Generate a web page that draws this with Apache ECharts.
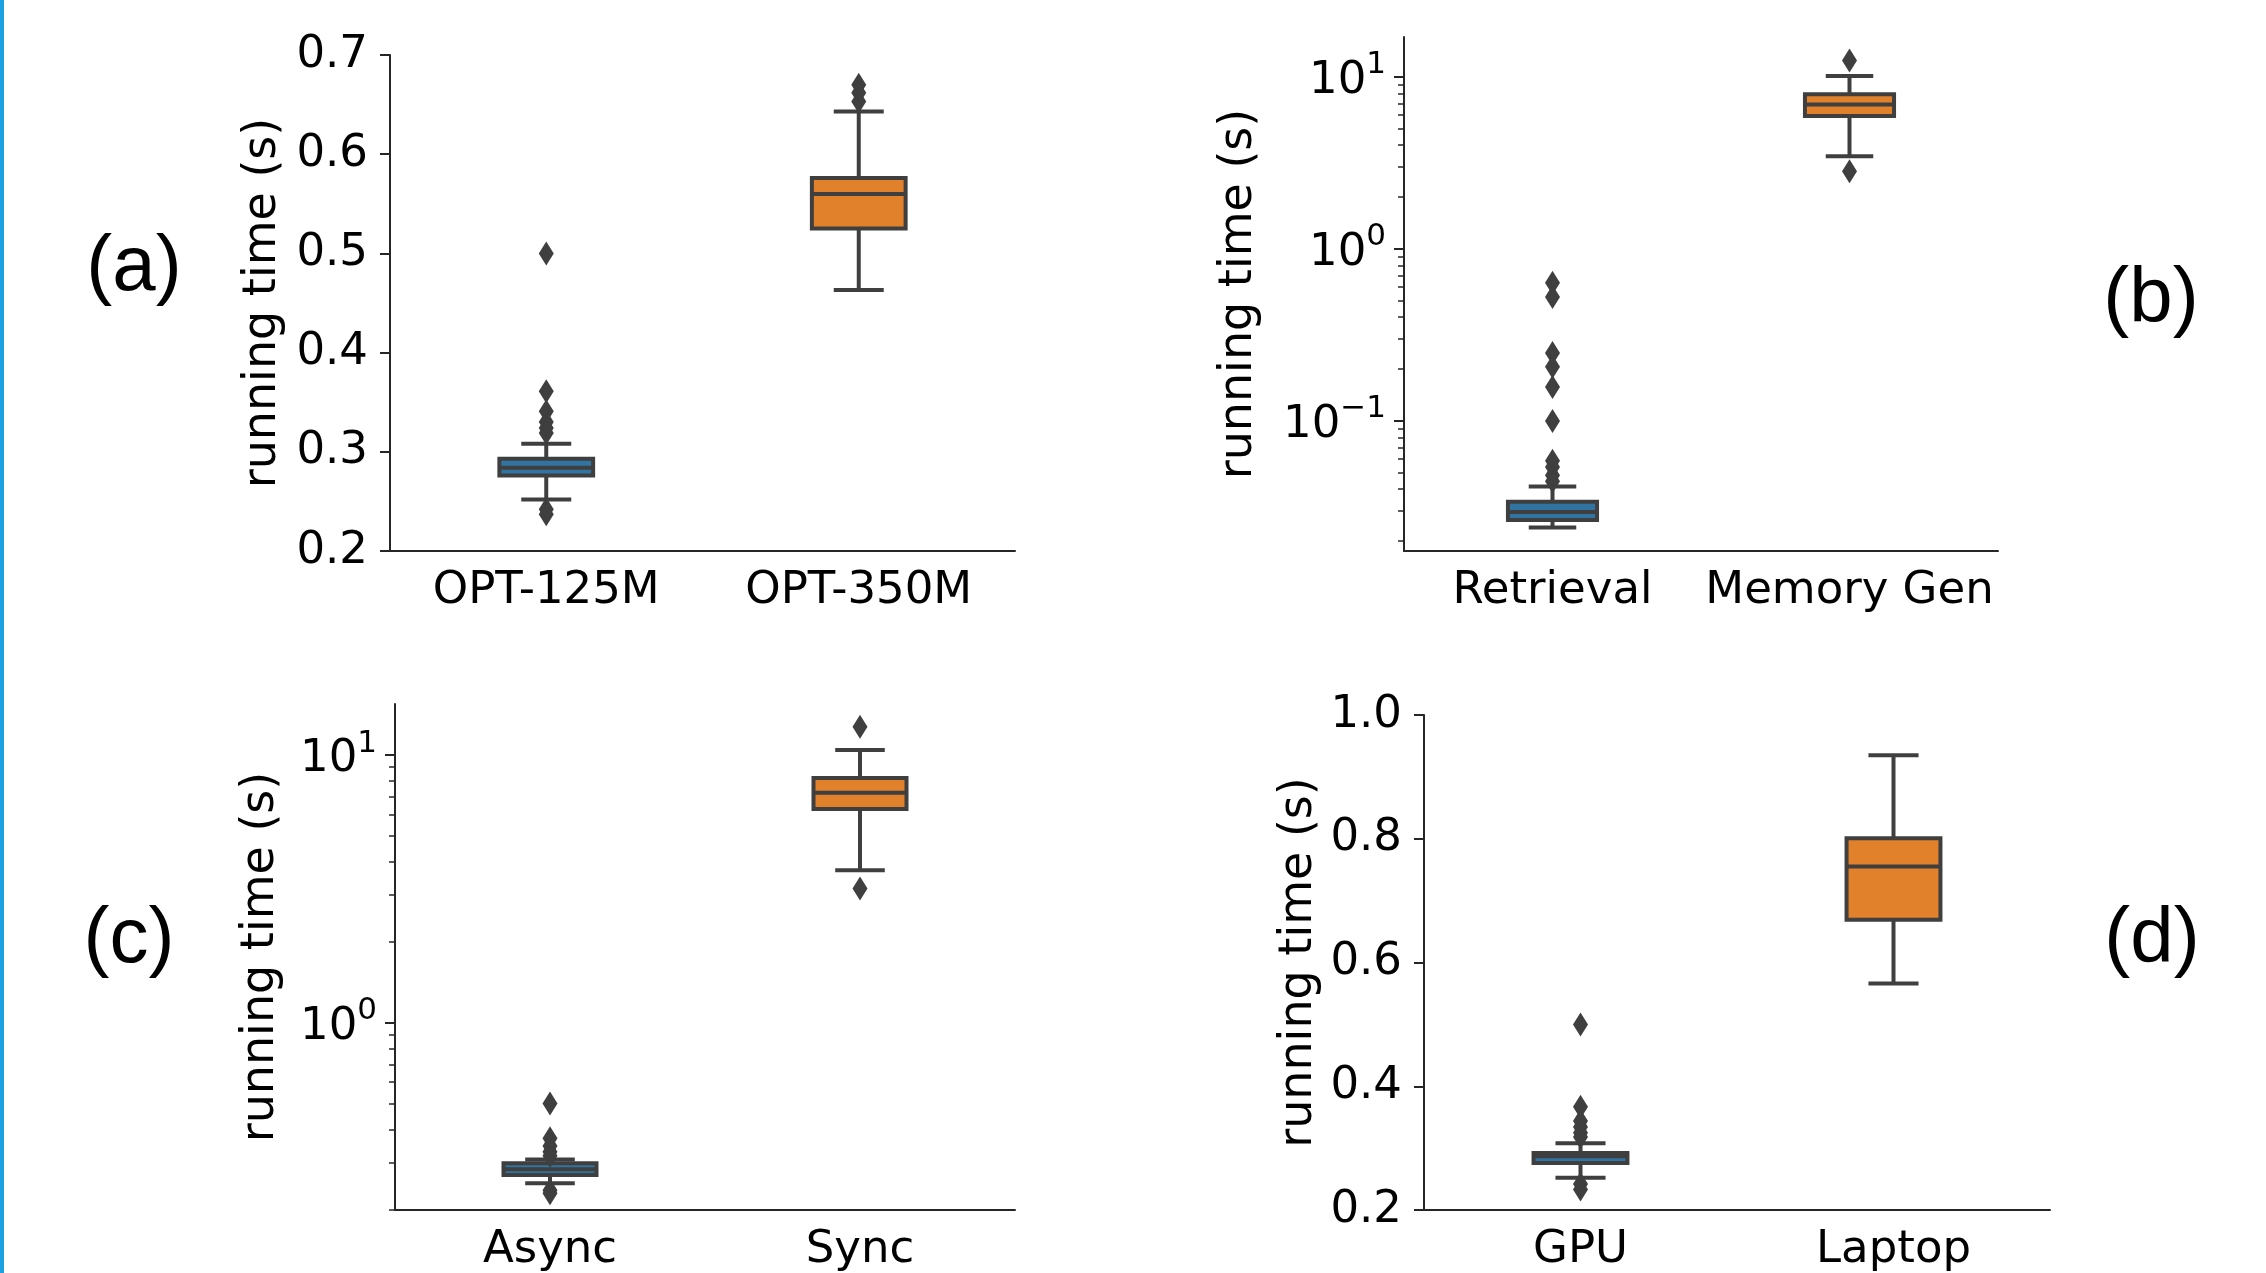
<!DOCTYPE html>
<html>
<head>
<meta charset="utf-8">
<script src="https://cdn.jsdelivr.net/npm/echarts@6/dist/echarts.min.js"></script>
<style>
  html, body { margin: 0; padding: 0; background: #ffffff; }
  #main { width: 2266px; height: 1273px; }
</style>
</head>
<body>
<div id="main"></div>
<script>
// panel (a)
const catsA = ['OPT-125M', 'OPT-350M'];
// [low whisker, q1, median, q3, high whisker]
const statsA = [[0.252, 0.276, 0.284, 0.293, 0.308], [0.463, 0.525, 0.560, 0.576, 0.643]];
const outA = [[0, 0.500], [0, 0.361], [0, 0.341], [0, 0.330], [0, 0.324], [0, 0.319], [0, 0.242], [0, 0.237],
  [1, 0.670], [1, 0.662], [1, 0.653]];

// panel (b), log scale
const catsB = ['Retrieval', 'Memory Gen'];
const statsB = [[0.0239, 0.0264, 0.0294, 0.0338, 0.0414], [3.45, 5.91, 6.88, 7.90, 10.1]];
const outB = [[0, 0.634], [0, 0.524], [0, 0.247], [0, 0.206], [0, 0.157], [0, 0.0995], [0, 0.0585],
  [0, 0.0538], [0, 0.0482], [0, 0.0444], [1, 12.4], [1, 2.82]];

// panel (c), log scale
const catsC = ['Async', 'Sync'];
const statsC = [[0.2515, 0.2705, 0.284, 0.299, 0.309], [3.71, 6.28, 7.22, 8.20, 10.44]];
const outC = [[0, 0.500], [0, 0.371], [0, 0.347], [0, 0.330], [0, 0.319], [0, 0.237], [0, 0.231],
  [1, 12.75], [1, 3.17]];

// panel (d)
const catsD = ['GPU', 'Laptop'];
const statsD = [[0.252, 0.276, 0.287, 0.292, 0.308], [0.566, 0.669, 0.755, 0.801, 0.935]];
const outD = [[0, 0.500], [0, 0.367], [0, 0.344], [0, 0.334], [0, 0.325], [0, 0.318], [0, 0.242], [0, 0.233]];

const majorLog = [0.1, 1, 10];
const minorLog = [0.02, 0.03, 0.04, 0.05, 0.06, 0.07, 0.08, 0.09, 0.2, 0.3, 0.4, 0.5, 0.6, 0.7, 0.8, 0.9,
  2, 3, 4, 5, 6, 7, 8, 9];

const boxColors = ['#3274a1', '#e1812c'];
const edge = '#3f3f3f';
const axisColor = '#262626';
const font = 'DejaVu Sans';

function renderBox(params, api) {
  const x = api.value(0);
  const lo = api.coord([x, api.value(1)]);
  const q1 = api.coord([x, api.value(2)]);
  const md = api.coord([x, api.value(3)]);
  const q3 = api.coord([x, api.value(4)]);
  const hi = api.coord([x, api.value(5)]);
  const band = api.size([1, 0])[0];
  const hw = band * 0.15;
  const cw = band * 0.08;
  const cx = md[0];
  const ls = { stroke: edge, lineWidth: 4 };
  return {
    type: 'group',
    children: [
      { type: 'line', shape: { x1: cx, y1: q3[1], x2: cx, y2: hi[1] }, style: ls },
      { type: 'line', shape: { x1: cx, y1: q1[1], x2: cx, y2: lo[1] }, style: ls },
      { type: 'line', shape: { x1: cx - cw, y1: hi[1], x2: cx + cw, y2: hi[1] }, style: ls },
      { type: 'line', shape: { x1: cx - cw, y1: lo[1], x2: cx + cw, y2: lo[1] }, style: ls },
      { type: 'rect', shape: { x: cx - hw, y: q3[1], width: 2 * hw, height: q1[1] - q3[1] },
        style: { fill: boxColors[x], stroke: edge, lineWidth: 4 } },
      { type: 'line', shape: { x1: cx - hw, y1: md[1], x2: cx + hw, y2: md[1] }, style: ls }
    ]
  };
}

function powLabel(v) {
  const e = Math.round(Math.log10(v));
  return '{b|10}{s|' + (e < 0 ? '\u2212' + (-e) : e) + '}';
}

function xAxisFor(i, cats) {
  return {
    type: 'category', gridIndex: i, data: cats,
    axisLine: { lineStyle: { color: axisColor, width: 2 } },
    axisTick: { alignWithLabel: true, length: 10, lineStyle: { color: axisColor, width: 2 } },
    axisLabel: { fontSize: 45, color: '#000', fontFamily: font, margin: 18, interval: 0 },
    splitLine: { show: false }
  };
}

function linearY(i, min, max, interval, gap) {
  return {
    type: 'value', gridIndex: i, min: min, max: max, interval: interval, position: 'left',
    name: 'running time (s)', nameLocation: 'middle', nameGap: gap,
    nameTextStyle: { fontSize: 46, color: '#000', fontFamily: font },
    axisLine: { show: true, lineStyle: { color: axisColor, width: 2 } },
    axisTick: { show: true, length: 10, lineStyle: { color: axisColor, width: 2 } },
    axisLabel: { fontSize: 45, color: '#000', fontFamily: font, margin: 22,
      formatter: (v) => v.toFixed(1) },
    splitLine: { show: false }
  };
}

function logY(i, min, max, gap) {
  return [{
    type: 'log', logBase: 10, gridIndex: i, min: min, max: max, position: 'left',
    name: 'running time (s)', nameLocation: 'middle', nameGap: gap,
    nameTextStyle: { fontSize: 46, color: '#000', fontFamily: font },
    axisLine: { show: true, lineStyle: { color: axisColor, width: 2 } },
    axisTick: { show: true, length: 10, customValues: majorLog, lineStyle: { color: axisColor, width: 2 } },
    axisLabel: {
      customValues: majorLog, margin: 18, formatter: powLabel,
      rich: {
        b: { fontSize: 45, color: '#000', fontFamily: font, lineHeight: 54, verticalAlign: 'bottom' },
        s: { fontSize: 31, color: '#000', fontFamily: font, lineHeight: 31, verticalAlign: 'top' }
      }
    },
    splitLine: { show: false }
  }, {
    // minor ticks only
    type: 'log', logBase: 10, gridIndex: i, min: min, max: max, position: 'left', offset: 0,
    axisLine: { show: false },
    axisTick: { show: true, length: 6, customValues: minorLog, lineStyle: { color: axisColor, width: 1.5 } },
    axisLabel: { show: false },
    splitLine: { show: false }
  }];
}

function boxSeries(i, yIdx, stats) {
  return {
    type: 'custom', xAxisIndex: i, yAxisIndex: yIdx,
    renderItem: renderBox,
    encode: { x: 0, y: [1, 2, 3, 4, 5] },
    data: stats.map((s, k) => [k].concat(s)),
    silent: true, z: 2
  };
}

function outlierSeries(i, yIdx, pts) {
  return {
    type: 'scatter', xAxisIndex: i, yAxisIndex: yIdx,
    symbol: 'diamond', symbolSize: [15, 24],
    itemStyle: { color: edge, opacity: 1 },
    data: pts, silent: true, z: 3
  };
}

const logB = logY(1, 0.01746, 17.0, 142);
const logC = logY(2, 0.2, 15.5, 111);

const option = {
  animation: false,
  backgroundColor: '#ffffff',
  grid: [
    { left: 390, top: 55, width: 625, height: 496 },
    { left: 1404, top: 37, width: 594, height: 514 },
    { left: 395, top: 704, width: 620, height: 514 },
    { left: 1424, top: 715, width: 626, height: 496 }
  ],
  xAxis: [xAxisFor(0, catsA), xAxisFor(1, catsB), xAxisFor(2, catsC), xAxisFor(3, catsD)],
  yAxis: [
    linearY(0, 0.2, 0.7, 0.1, 104),  // 0
    logB[0], logB[1],                 // 1, 2
    logC[0], logC[1],                 // 3, 4
    linearY(3, 0.2, 1.0, 0.2, 102)    // 5
  ],
  series: [
    boxSeries(0, 0, statsA), outlierSeries(0, 0, outA),
    boxSeries(1, 1, statsB), outlierSeries(1, 1, outB),
    boxSeries(2, 3, statsC), outlierSeries(2, 3, outC),
    boxSeries(3, 5, statsD), outlierSeries(3, 5, outD)
  ],
  graphic: [
    { type: 'rect', left: 0, top: 0, shape: { width: 4, height: 1273 }, style: { fill: '#1ba1e2' } },
    { type: 'text', x: 134, y: 268, style: { text: '(a)', font: '78px "Liberation Sans"', fill: '#000', align: 'center', verticalAlign: 'middle' } },
    { type: 'text', x: 2151, y: 300, style: { text: '(b)', font: '78px "Liberation Sans"', fill: '#000', align: 'center', verticalAlign: 'middle' } },
    { type: 'text', x: 129, y: 940, style: { text: '(c)', font: '78px "Liberation Sans"', fill: '#000', align: 'center', verticalAlign: 'middle' } },
    { type: 'text', x: 2152, y: 940, style: { text: '(d)', font: '78px "Liberation Sans"', fill: '#000', align: 'center', verticalAlign: 'middle' } }
  ]
};

const myChart = echarts.init(document.getElementById('main'));
myChart.setOption(option);
</script>
</body>
</html>
